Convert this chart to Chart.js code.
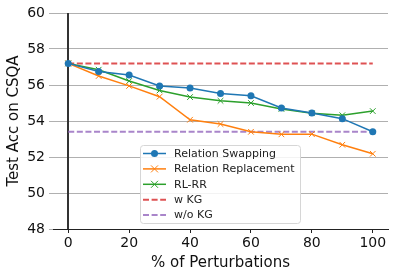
<!DOCTYPE html>
<html>
<head>
<meta charset="utf-8">
<script src="https://cdn.jsdelivr.net/npm/chart.js@4/dist/chart.umd.min.js"></script>
<style>
  html, body { margin: 0; padding: 0; background: #fff; }
  #wrap { width: 394px; height: 278px; position: relative; }
</style>
</head>
<body>
<div id="wrap"><canvas id="chart"></canvas></div>
<script>
// data
const perturbations = [0, 10, 20, 30, 40, 50, 60, 70, 80, 90, 100];
const relationSwapping = [57.2, 56.75, 56.55, 55.95, 55.83, 55.53, 55.4, 54.72, 54.45, 54.13, 53.4];
const relationReplacement = [57.2, 56.5, 55.95, 55.35, 54.07, 53.83, 53.4, 53.26, 53.27, 52.68, 52.18];
const rlRR = [57.2, 56.85, 56.22, 55.7, 55.33, 55.12, 55.0, 54.67, 54.43, 54.32, 54.55];
const withKG = 57.2;
const withoutKG = 53.4;
const xTicks = [0, 20, 40, 60, 80, 100];
const yTicks = [48, 50, 52, 54, 56, 58, 60];

const FONT = "'DejaVu Sans', sans-serif";

const toPoints = (vals) => vals.map((v, i) => ({ x: perturbations[i], y: v }));
const flat = (v) => [{ x: perturbations[0], y: v }, { x: perturbations[perturbations.length - 1], y: v }];

// vertical line at x = 0, drawn like an axvline
const zeroLine = {
    id: 'zeroLine',
    beforeDatasetsDraw(chart) {
        const { ctx, chartArea, scales } = chart;
        const x = Math.round(scales.x.getPixelForValue(0));
        ctx.save();
        ctx.strokeStyle = '#333';
        ctx.lineWidth = 2;
        ctx.beginPath();
        ctx.moveTo(x, chartArea.top);
        ctx.lineTo(x, chartArea.bottom);
        ctx.stroke();
        ctx.restore();
    }
};

// matplotlib-like legend box inside the plot
const boxLegend = {
    id: 'boxLegend',
    afterDraw(chart) {
        const { ctx } = chart;
        const left = 140, top = 145, w = 160, h = 78, rowH = 15.4;
        ctx.save();
        ctx.fillStyle = 'rgba(255,255,255,0.85)';
        ctx.strokeStyle = '#d6d6d6';
        ctx.lineWidth = 1;
        ctx.beginPath();
        ctx.roundRect(left + 0.5, top + 0.5, w, h, 3);
        ctx.fill();
        ctx.stroke();

        chart.data.datasets.forEach((ds, i) => {
            const y = top + 8.5 + i * rowH;
            ctx.strokeStyle = ds.borderColor;
            ctx.lineWidth = ds.borderWidth;
            ctx.setLineDash(ds.borderDash || []);
            ctx.beginPath();
            ctx.moveTo(left + 3, y);
            ctx.lineTo(left + 26, y);
            ctx.stroke();
            ctx.setLineDash([]);
            const cx = left + 14.5;
            if (ds.pointStyle === 'circle') {
                ctx.fillStyle = ds.borderColor;
                ctx.beginPath();
                ctx.arc(cx, y, 3.5, 0, Math.PI * 2);
                ctx.fill();
            } else if (ds.pointStyle === 'crossRot') {
                ctx.lineWidth = 1;
                ctx.beginPath();
                ctx.moveTo(cx - 3.5, y - 3.5); ctx.lineTo(cx + 3.5, y + 3.5);
                ctx.moveTo(cx - 3.5, y + 3.5); ctx.lineTo(cx + 3.5, y - 3.5);
                ctx.stroke();
            }
            ctx.fillStyle = '#222';
            ctx.font = '11px ' + FONT;
            ctx.textBaseline = 'middle';
            ctx.fillText(ds.label, left + 34, y + 0.5);
        });
        ctx.restore();
    }
};

new Chart(document.getElementById('chart'), {
    type: 'line',
    data: {
        datasets: [
            { label: 'Relation Swapping', data: toPoints(relationSwapping), borderColor: '#1f77b4', backgroundColor: '#1f77b4',
              borderWidth: 1.5, pointStyle: 'circle', pointRadius: 3.5, pointBorderWidth: 0 },
            { label: 'Relation Replacement', data: toPoints(relationReplacement), borderColor: '#ff7f0e', backgroundColor: '#ff7f0e',
              borderWidth: 1.5, pointStyle: 'crossRot', pointRadius: 4, pointBorderWidth: 1 },
            { label: 'RL-RR', data: toPoints(rlRR), borderColor: '#2ca02c', backgroundColor: '#2ca02c',
              borderWidth: 1.5, pointStyle: 'crossRot', pointRadius: 4, pointBorderWidth: 1 },
            { label: 'w KG', data: flat(withKG), borderColor: 'rgba(214,39,40,0.8)', borderWidth: 2,
              borderDash: [6, 2.6], pointRadius: 0 },
            { label: 'w/o KG', data: flat(withoutKG), borderColor: 'rgba(148,103,189,0.8)', borderWidth: 2,
              borderDash: [6, 2.6], pointRadius: 0 }
        ]
    },
    options: {
        responsive: true,
        maintainAspectRatio: false,
        animation: false,
        layout: { padding: { top: 13, right: 6, left: 0, bottom: 0 } },
        plugins: { legend: { display: false }, tooltip: { enabled: false } },
        elements: { line: { tension: 0 } },
        scales: {
            x: {
                type: 'linear', min: -5, max: 105,
                afterBuildTicks: (s) => { s.ticks = xTicks.map(v => ({ value: v })); },
                afterFit: (s) => { s.height = 49; },
                ticks: { color: '#111', font: { family: FONT, size: 14 }, padding: 2 },
                grid: { display: true, drawOnChartArea: false, drawTicks: true, tickLength: 4, color: '#222' },
                border: { display: true, color: '#222', width: 1 },
                title: { display: true, text: '% of Perturbations', color: '#111',
                         font: { family: FONT, size: 15 }, padding: { top: 1, bottom: 6 } }
            },
            y: {
                min: 48, max: 60,
                afterBuildTicks: (s) => { s.ticks = yTicks.map(v => ({ value: v })); },
                afterFit: (s) => { s.width = 53; },
                ticks: { color: '#111', font: { family: FONT, size: 14 }, padding: 4 },
                grid: { color: '#b0b0b0', lineWidth: 1, drawTicks: true, tickLength: 4 },
                border: { display: false },
                title: { display: true, text: 'Test Acc on CSQA', color: '#111',
                         font: { family: FONT, size: 15 }, padding: { top: 5, bottom: 2 } }
            }
        }
    },
    plugins: [zeroLine, boxLegend]
});
</script>
</body>
</html>
